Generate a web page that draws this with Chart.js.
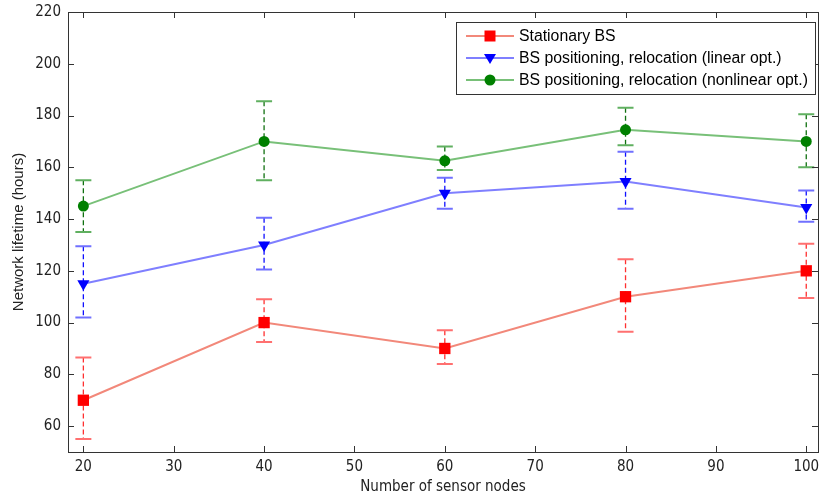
<!DOCTYPE html>
<html>
<head>
<meta charset="utf-8">
<script src="https://cdn.jsdelivr.net/npm/chart.js@4"></script>
<style>
  html, body { margin: 0; padding: 0; background: #fff; overflow: hidden; }
  #wrap { width: 819px; height: 500px; overflow: hidden; }
</style>
</head>
<body>
<div id="wrap"><canvas id="chart" width="832" height="500"></canvas></div>
<script>
const nodes = [20, 40, 60, 80, 100];
const xTicks = [20, 30, 40, 50, 60, 70, 80, 90, 100];
const yTicks = [60, 80, 100, 120, 140, 160, 180, 200, 220];

const stationary = [70, 100, 90, 110, 120];
const stationaryLow = [55, 92.5, 84, 96.5, 109.5];
const stationaryHigh = [86.5, 109, 97, 124.5, 130.5];

const linearOpt = [115, 130, 150, 154.5, 144.5];
const linearLow = [102, 120.5, 144, 144, 139];
const linearHigh = [129.5, 140.5, 156, 166, 151];

const nonlinearOpt = [145, 170, 162.5, 174.5, 170];
const nonlinearLow = [135, 155, 159, 168.5, 160];
const nonlinearHigh = [155, 185.5, 168, 183, 180.5];

const labels = [
  'Stationary BS',
  'BS positioning, relocation (linear opt.)',
  'BS positioning, relocation (nonlinear opt.)'
];

const FONT = '"DejaVu Sans Condensed", "Liberation Sans", sans-serif';
const SANS = '"Liberation Sans", Arial, sans-serif';

function pts(ys) { return nodes.map((x, i) => ({ x: x, y: ys[i] })); }

const series = [
  { label: labels[0], data: pts(stationary), low: stationaryLow, high: stationaryHigh,
    line: '#f2887a', mark: '#ff0000', dash: '#ff3030', cap: '#ff7070', style: 'rect', r: 8, rot: 0 },
  { label: labels[1], data: pts(linearOpt), low: linearLow, high: linearHigh,
    line: '#7f7fff', mark: '#0000ff', dash: '#1010ff', cap: '#7070ff', style: 'triangle', r: 7, rot: 180 },
  { label: labels[2], data: pts(nonlinearOpt), low: nonlinearLow, high: nonlinearHigh,
    line: '#78c078', mark: '#008000', dash: '#107010', cap: '#60b060', style: 'circle', r: 5.5, rot: 0 }
];

// error bars under the markers
const errorBars = {
  id: 'errorBars',
  beforeDatasetsDraw(chart) {
    const ctx = chart.ctx, xs = chart.scales.x, ys = chart.scales.y;
    ctx.save();
    series.forEach(s => {
      nodes.forEach((n, i) => {
        const px = xs.getPixelForValue(n);
        const top = ys.getPixelForValue(s.high[i]);
        const bot = ys.getPixelForValue(s.low[i]);
        ctx.setLineDash([5, 3]);
        ctx.strokeStyle = s.dash;
        ctx.lineWidth = 1.3;
        ctx.beginPath(); ctx.moveTo(px, top); ctx.lineTo(px, bot); ctx.stroke();
        ctx.setLineDash([]);
        ctx.strokeStyle = s.cap;
        ctx.lineWidth = 2;
        ctx.beginPath();
        ctx.moveTo(px - 8, top); ctx.lineTo(px + 8, top);
        ctx.moveTo(px - 8, bot); ctx.lineTo(px + 8, bot);
        ctx.stroke();
      });
    });
    ctx.restore();
  }
};

// box around plot with inward ticks on all sides, plus the legend
const frame = {
  id: 'frame',
  afterDraw(chart) {
    const ctx = chart.ctx, a = chart.chartArea, xs = chart.scales.x, ys = chart.scales.y;
    ctx.save();
    ctx.strokeStyle = '#333';
    ctx.lineWidth = 1;
    ctx.strokeRect(a.left + 0.5, a.top + 0.5, a.right - a.left, a.bottom - a.top);
    ctx.beginPath();
    xTicks.forEach(t => {
      const px = Math.round(xs.getPixelForValue(t)) + 0.5;
      ctx.moveTo(px, a.bottom); ctx.lineTo(px, a.bottom - 6);
      ctx.moveTo(px, a.top); ctx.lineTo(px, a.top + 6);
    });
    yTicks.forEach(t => {
      const py = Math.round(ys.getPixelForValue(t)) + 0.5;
      ctx.moveTo(a.left, py); ctx.lineTo(a.left + 6, py);
      ctx.moveTo(a.right, py); ctx.lineTo(a.right - 6, py);
    });
    ctx.stroke();

    const lx = 456, ly = 22, lw = 359, lh = 72;
    ctx.fillStyle = '#fff';
    ctx.fillRect(lx, ly, lw, lh);
    ctx.strokeStyle = '#333';
    ctx.strokeRect(lx + 0.5, ly + 0.5, lw, lh);
    ctx.font = '15.8px ' + SANS;
    ctx.textBaseline = 'middle';
    series.forEach((s, i) => {
      const y = 36 + i * 22;
      ctx.strokeStyle = s.line;
      ctx.lineWidth = 2;
      ctx.beginPath(); ctx.moveTo(466, y); ctx.lineTo(514, y); ctx.stroke();
      ctx.fillStyle = s.mark;
      ctx.beginPath();
      if (s.style === 'rect') {
        ctx.rect(484.5, y - 5.5, 11, 11);
      } else if (s.style === 'triangle') {
        ctx.moveTo(484, y - 4); ctx.lineTo(496, y - 4); ctx.lineTo(490, y + 6); ctx.closePath();
      } else {
        ctx.arc(490, y, 5.5, 0, Math.PI * 2);
      }
      ctx.fill();
      ctx.fillStyle = '#000';
      ctx.fillText(s.label, 519, y + 1);
    });
    ctx.restore();
  }
};

new Chart(document.getElementById('chart'), {
  type: 'line',
  data: {
    datasets: series.map(s => ({
      label: s.label,
      data: s.data,
      borderColor: s.line,
      borderWidth: 2,
      backgroundColor: s.mark,
      pointBackgroundColor: s.mark,
      pointBorderColor: s.mark,
      pointBorderWidth: 0,
      pointStyle: s.style,
      pointRadius: s.r,
      pointRotation: s.rot,
      tension: 0
    }))
  },
  options: {
    responsive: false,
    animation: false,
    devicePixelRatio: 1,
    layout: { padding: { top: 12, right: 14, left: 0, bottom: 0 } },
    plugins: { legend: { display: false }, tooltip: { enabled: false } },
    scales: {
      x: {
        type: 'linear',
        min: 18.3,
        max: 101.3,
        grid: { display: false, drawTicks: false },
        border: { display: false },
        afterBuildTicks: sc => { sc.ticks = xTicks.map(v => ({ value: v })); },
        afterFit: sc => { sc.height = 48; sc.paddingLeft = 0; sc.paddingRight = 0; },
        ticks: { color: '#222', padding: 6, maxRotation: 0, autoSkip: false, font: { family: FONT, size: 15 } },
        title: { display: true, text: 'Number of sensor nodes', color: '#222',
                 padding: { top: 0, bottom: 4 }, font: { family: FONT, size: 15 } }
      },
      y: {
        min: 50,
        max: 220,
        grid: { display: false, drawTicks: false },
        border: { display: false },
        afterBuildTicks: sc => { sc.ticks = yTicks.map(v => ({ value: v })); },
        afterFit: sc => { sc.width = 68; sc.paddingTop = 0; sc.paddingBottom = 0; },
        ticks: { color: '#222', padding: 7, autoSkip: false, font: { family: FONT, size: 15 } },
        title: { display: true, text: 'Network lifetime (hours)', color: '#222',
                 padding: { top: 10, bottom: 0 }, font: { family: SANS, size: 15 } }
      }
    }
  },
  plugins: [errorBars, frame]
});
</script>
</body>
</html>
